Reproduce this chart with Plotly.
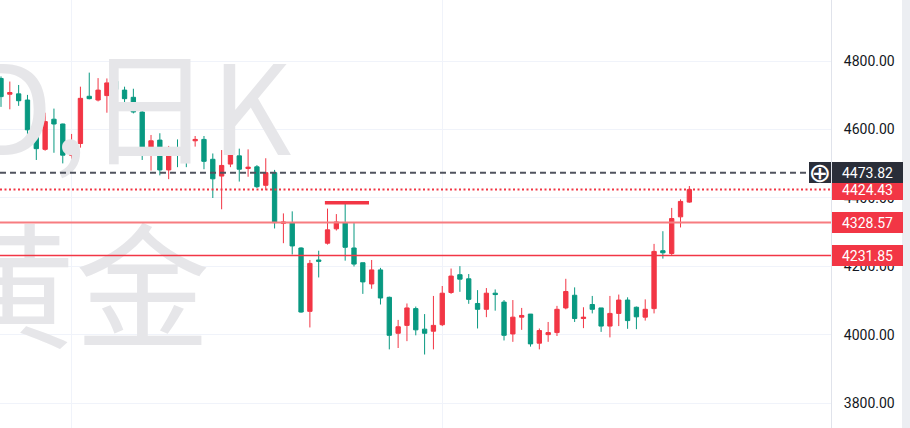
import plotly.graph_objects as go

# ---------------- data (daily candles, gold) ----------------
bars = list(range(79))
opens = [4749, 4703, 4704, 4686, 4599, 4542, 4630, 4616, 4525, 4559,
         4697, 4686, 4699, 4741, 4715, 4694, 4651, 4532, 4569, 4482,
         4547, 4544, 4567, 4571, 4513, 4464, 4499, 4523, 4486, 4491,
         4437, 4474, 4326, 4328, 4254, 4069, 4219, 4268, 4310, 4328,
         4254, 4211, 4149, 4190, 4110, 4005, 4028, 4077, 4017, 4011,
         4030, 4124, 4176, 4164, 4092, 4075, 4122, 4096, 4003, 4052,
         4061, 3976, 4001, 4007, 4079, 4116, 4048, 4089, 4079, 4026,
         4063, 4102, 4081, 4052, 4077, 4246, 4238, 4345, 4388]
highs = [4755, 4740, 4730, 4701, 4610, 4649, 4661, 4617, 4587, 4725,
         4766, 4750, 4749, 4774, 4725, 4719, 4665, 4584, 4589, 4552,
         4571, 4547, 4581, 4581, 4530, 4540, 4596, 4544, 4542, 4496,
         4516, 4482, 4355, 4361, 4256, 4219, 4246, 4369, 4353, 4383,
         4328, 4211, 4219, 4196, 4112, 4044, 4092, 4083, 4061, 4114,
         4143, 4194, 4201, 4178, 4131, 4137, 4133, 4102, 4102, 4079,
         4061, 4019, 4038, 4085, 4164, 4139, 4081, 4114, 4079, 4114,
         4118, 4110, 4083, 4104, 4266, 4303, 4371, 4396, 4435]
lows = [4666, 4659, 4669, 4555, 4511, 4538, 4532, 4501, 4513, 4547,
        4688, 4682, 4649, 4639, 4671, 4647, 4511, 4480, 4466, 4455,
        4490, 4490, 4550, 4484, 4400, 4367, 4490, 4448, 4462, 4429,
        4423, 4311, 4268, 4235, 4065, 4022, 4168, 4264, 4305, 4217,
        4200, 4120, 4135, 4089, 3958, 3962, 3982, 3999, 3943, 3958,
        4026, 4120, 4126, 4091, 4019, 4052, 4071, 3984, 3980, 4015,
        3966, 3958, 3980, 3997, 4075, 4038, 4020, 4063, 4009, 3993,
        4026, 4018, 4017, 4042, 4063, 4223, 4231, 4314, 4386]
closes = [4696, 4708, 4684, 4599, 4544, 4623, 4616, 4525, 4556, 4691,
          4690, 4715, 4736, 4717, 4690, 4651, 4540, 4567, 4482, 4544,
          4543, 4507, 4571, 4507, 4456, 4495, 4540, 4484, 4490, 4433,
          4474, 4328, 4330, 4260, 4067, 4209, 4215, 4307, 4330, 4256,
          4207, 4155, 4190, 4108, 3999, 4024, 4079, 4015, 4005, 4028,
          4122, 4172, 4163, 4104, 4075, 4122, 4118, 3999, 4052, 4057,
          3974, 4013, 4007, 4075, 4127, 4048, 4052, 4075, 4026, 4063,
          4102, 4042, 4053, 4075, 4244, 4240, 4340, 4390, 4424.43]

current_price = 4424.43
crosshair_level = 4473.82
support_levels = [4328.57, 4231.85]
resistance_level = 4386
resistance_bars = [36.7, 41.7]
grid_prices = [3800, 4000, 4200, 4400, 4600, 4800]
grid_text = ["3800.00", "4000.00", "4200.00", "4400.00", "4600.00", "4800.00"]
period_marks = [8, 50]
watermark_lines = ["XAUUSD,日K", "黄金"]

# ---------------- style ----------------
UP = "#f23645"
DOWN = "#089981"
GRID = "#f0f3fa"
DARK = "#2a2e39"
WM = "#e6e6e9"

fig = go.Figure()

# watermark (drawn under the candles)
fig.add_trace(go.Scatter(x=[32.9], y=[4617], mode="text", text=[watermark_lines[0]],
                         textposition="middle left",
                         textfont=dict(size=124, color=WM, family="Noto Sans CJK SC"),
                         hoverinfo="skip", showlegend=False))
fig.add_trace(go.Scatter(x=[23.7], y=[4090], mode="text", text=[watermark_lines[1]],
                         textposition="middle left",
                         textfont=dict(size=135, color=WM, family="Noto Sans CJK SC"),
                         hoverinfo="skip", showlegend=False))

fig.add_trace(go.Candlestick(
    x=bars, open=opens, high=highs, low=lows, close=closes,
    increasing=dict(line=dict(color=UP, width=1), fillcolor=UP),
    decreasing=dict(line=dict(color=DOWN, width=1), fillcolor=DOWN),
    whiskerwidth=0, showlegend=False, hoverinfo="skip"))

shapes = []
# level lines
shapes.append(dict(type="line", xref="paper", yref="y", x0=0, x1=809 / 831,
                   y0=crosshair_level, y1=crosshair_level,
                   line=dict(color="#50535e", width=2, dash="6px,4px")))
shapes.append(dict(type="line", xref="paper", yref="y", x0=0, x1=1,
                   y0=current_price, y1=current_price,
                   line=dict(color=UP, width=2, dash="2px,2.5px")))
shapes.append(dict(type="line", xref="paper", yref="y", x0=0, x1=1,
                   y0=support_levels[0], y1=support_levels[0],
                   line=dict(color="#f77c80", width=2)))
shapes.append(dict(type="line", xref="paper", yref="y", x0=0, x1=1,
                   y0=support_levels[1], y1=support_levels[1],
                   line=dict(color=UP, width=1.5)))
# drawn resistance segment
shapes.append(dict(type="line", xref="x", yref="y", x0=resistance_bars[0], x1=resistance_bars[1],
                   y0=resistance_level, y1=resistance_level,
                   line=dict(color=UP, width=3.5)))
# right edge strip
shapes.append(dict(type="rect", xref="paper", yref="paper", x0=902 / 831, x1=910 / 831,
                   y0=0, y1=1, fillcolor="#eceef2", line=dict(width=0), layer="above"))

annotations = []

def price_label(level, bg):
    annotations.append(dict(xref="paper", yref="y", x=1, y=level, xanchor="left", yanchor="middle",
                            xshift=1, text=f"{level:.2f}", showarrow=False, bgcolor=bg,
                            width=71, height=21, borderpad=0, borderwidth=0, align="center",
                            font=dict(family="Roboto", size=14, color="white")))

price_label(current_price, UP)
price_label(support_levels[0], UP)
price_label(support_levels[1], UP)
price_label(crosshair_level, DARK)
annotations.append(dict(xref="paper", yref="y", x=809 / 831, y=crosshair_level, xanchor="left",
                        yanchor="middle", text="⊕", showarrow=False, bgcolor=DARK,
                        width=22, height=21, borderpad=0, borderwidth=0, align="center",
                        font=dict(family="DejaVu Sans", size=27, color="white")))

fig.update_layout(
    width=910, height=428,
    margin=dict(l=0, r=79, t=0, b=0),
    paper_bgcolor="white", plot_bgcolor="white",
    showlegend=False, shapes=shapes, annotations=annotations,
    xaxis=dict(range=[-0.113, 94.05], tickvals=period_marks, showticklabels=False,
               showgrid=True, gridcolor=GRID, gridwidth=1, zeroline=False, ticks="",
               rangeslider=dict(visible=False), showline=False),
    yaxis=dict(side="right", range=[3728.4, 4978.1], tickvals=grid_prices, ticktext=grid_text,
               showgrid=True, gridcolor=GRID, gridwidth=1, zeroline=False,
               showline=True, linecolor="#e0e3eb", linewidth=1,
               ticks="outside", ticklen=9, tickcolor="rgba(0,0,0,0)",
               tickfont=dict(family="Roboto", size=14, color="#131722")),
)

fig.write_html("out.html", config={"displayModeBar": False},
               post_script="document.body.style.margin='0px';document.body.style.overflow='hidden';")
